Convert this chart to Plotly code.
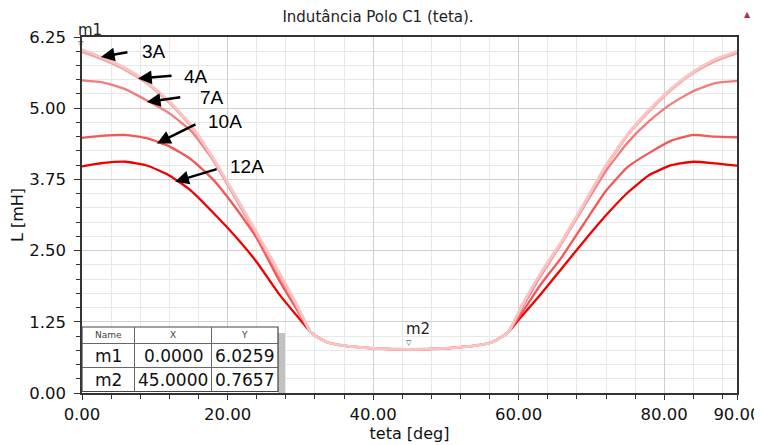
import plotly.graph_objects as go

# ---------------- data ----------------
teta_deg = [0, 3, 6, 9, 12, 15, 18, 21, 24, 27, 29.5, 31.5, 33.5, 36, 40, 45,
            50, 54, 56.5, 58.5, 60.5, 63, 66, 69, 72, 75, 78, 81, 84, 87, 90]

L_3A = [6.03, 5.88, 5.70, 5.45, 5.12, 4.70, 4.13, 3.48, 2.82, 2.14, 1.55, 1.06, 0.90, 0.83, 0.785, 0.766,
        0.785, 0.83, 0.90, 1.06, 1.55, 2.10, 2.68, 3.33, 4.00, 4.55, 4.98, 5.35, 5.64, 5.86, 6.00]
L_4A = [5.99, 5.85, 5.67, 5.43, 5.10, 4.68, 4.11, 3.46, 2.80, 2.12, 1.54, 1.06, 0.90, 0.83, 0.785, 0.766,
        0.785, 0.83, 0.90, 1.06, 1.54, 2.08, 2.66, 3.31, 3.98, 4.53, 4.96, 5.33, 5.62, 5.83, 5.97]
L_7A = [5.49, 5.45, 5.33, 5.13, 4.91, 4.60, 4.09, 3.44, 2.77, 2.08, 1.52, 1.06, 0.90, 0.83, 0.785, 0.766,
        0.785, 0.83, 0.90, 1.06, 1.50, 2.05, 2.65, 3.28, 3.90, 4.40, 4.78, 5.08, 5.30, 5.44, 5.48]
L_10A = [4.48, 4.52, 4.53, 4.47, 4.33, 4.10, 3.75, 3.27, 2.72, 2.00, 1.47, 1.06, 0.90, 0.83, 0.785, 0.766,
         0.785, 0.83, 0.90, 1.06, 1.42, 1.90, 2.40, 2.98, 3.55, 3.97, 4.22, 4.43, 4.53, 4.50, 4.49]
L_12A = [3.98, 4.04, 4.06, 3.99, 3.82, 3.55, 3.17, 2.76, 2.30, 1.75, 1.36, 1.06, 0.90, 0.83, 0.785, 0.766,
         0.785, 0.83, 0.90, 1.06, 1.36, 1.73, 2.20, 2.67, 3.12, 3.52, 3.83, 4.00, 4.06, 4.03, 3.99]

series_names = ["12A", "10A", "7A", "4A", "3A"]
series_values = [L_12A, L_10A, L_7A, L_4A, L_3A]
series_colors = ["#f00000", "#f25858", "#f37b7b", "#f6a2a2", "#fac4c4"]
series_widths = [2.3, 2.3, 2.3, 2.8, 2.8]

x_tickvals = [0, 20, 40, 60, 80, 90]
x_ticktext = ["0.00", "20.00", "40.00", "60.00", "80.00", "90.00"]
y_tickvals = [0, 1.25, 2.5, 3.75, 5.0, 6.25]
y_ticktext = ["0.00", "1.25", "2.50", "3.75", "5.00", "6.25"]

marker_names = ["m1", "m2"]
marker_x = [0.0, 45.0]
marker_y = [6.0259, 0.7657]
marker_x_text = ["0.0000", "45.0000"]
marker_y_text = ["6.0259", "0.7657"]

# arrow labels: (label, tip teta, tip L)
arrow_labels = ["3A", "4A", "7A", "10A", "12A"]
arrow_tip_x = [2.6, 7.7, 8.9, 10.3, 12.8]
arrow_tip_y = [5.90, 5.52, 5.11, 4.38, 3.71]

# ---------------- layout geometry (pixels) ----------------
OFF = 8                      # page body margin of the html page
W, H = 762 - OFF, 445 - OFF  # figure size
SPL, SPR, SPT, SPB = 82, 737, 37, 393  # plot area in screenshot pixels


def px(xs):
    return (xs - SPL) / (SPR - SPL)


def py(ys):
    return (SPB - ys) / (SPB - SPT)


FONT = "DejaVu Sans"

fig = go.Figure()
for name, vals, col, wd in zip(series_names, series_values, series_colors, series_widths):
    fig.add_trace(go.Scatter(x=teta_deg, y=vals, mode="lines", name=name,
                             line=dict(color=col, width=wd, shape="spline", smoothing=0.5),
                             hoverinfo="skip"))

annotations = []
# marker triangles and names
for n, mx, my in zip(marker_names, marker_x, marker_y):
    annotations.append(dict(x=mx, y=my, xref="x", yref="y", text="▽", showarrow=False,
                            font=dict(family=FONT, size=7, color="#333"),
                            xanchor="center", yanchor="middle", yshift=6, xshift=-1))
    annotations.append(dict(x=mx, y=my, xref="x", yref="y", text=n, showarrow=False,
                            font=dict(family=FONT, size=15, color="#222"),
                            xanchor="left", yanchor="middle", yshift=20, xshift=-6))

# arrows with labels
arrow_dx = [28, 35, 35, 40, 43]
arrow_dy = [-5, -3, -5, -20, -13]
label_dx = [39, 44, 51, 49, 53]
label_dy = [5, 2, 4, 22, 15]
for lab, tx, ty, adx, ady, ldx, ldy in zip(arrow_labels, arrow_tip_x, arrow_tip_y,
                                            arrow_dx, arrow_dy, label_dx, label_dy):
    annotations.append(dict(x=tx, y=ty, xref="x", yref="y", text="", showarrow=True,
                            ax=adx, ay=ady, arrowhead=2, arrowsize=1.1, arrowwidth=2.5,
                            arrowcolor="black"))
    annotations.append(dict(x=tx, y=ty, xref="x", yref="y", text=lab, showarrow=False,
                            font=dict(family="Liberation Sans", size=19, color="black"),
                            xanchor="left", yanchor="middle", xshift=ldx, yshift=ldy))

# table
tL, tR, tT, tH, tR1, tB = 82, 278, 327, 343.5, 367.5, 391.5
c1, c2 = 134.5, 211.5
shapes = [
    dict(type="rect", xref="paper", yref="paper", x0=px(tR), x1=px(tR + 7), y0=py(SPB), y1=py(tT + 6),
         fillcolor="#c2c2c2", line=dict(width=0), layer="above"),
    dict(type="rect", xref="paper", yref="paper", x0=px(tL), x1=px(tR), y0=py(tB), y1=py(tT),
         fillcolor="white", line=dict(color="#444", width=1.2), layer="above"),
    dict(type="line", xref="paper", yref="paper", x0=px(tL), x1=px(tR), y0=py(tH), y1=py(tH),
         line=dict(color="#666", width=1), layer="above"),
    dict(type="line", xref="paper", yref="paper", x0=px(tL), x1=px(tR), y0=py(tR1), y1=py(tR1),
         line=dict(color="#666", width=1), layer="above"),
    dict(type="line", xref="paper", yref="paper", x0=px(c1), x1=px(c1), y0=py(tB), y1=py(tT),
         line=dict(color="#666", width=1), layer="above"),
    dict(type="line", xref="paper", yref="paper", x0=px(c2), x1=px(c2), y0=py(tB), y1=py(tT),
         line=dict(color="#666", width=1), layer="above"),
]
hdr_y = (tT + tH) / 2
for txt, cx in zip(["Name", "X", "Y"], [(tL + c1) / 2, (c1 + c2) / 2, (c2 + tR) / 2]):
    annotations.append(dict(x=px(cx), y=py(hdr_y), xref="paper", yref="paper", text=txt,
                            showarrow=False, font=dict(family=FONT, size=9, color="#444"),
                            xanchor="center", yanchor="middle"))
row_ys = [(tH + tR1) / 2, (tR1 + tB) / 2]
for n, xt, yt, ry in zip(marker_names, marker_x_text, marker_y_text, row_ys):
    for txt, cx in zip([n, xt, yt], [(tL + c1) / 2, (c1 + c2) / 2, (c2 + tR) / 2]):
        annotations.append(dict(x=px(cx), y=py(ry), xref="paper", yref="paper", text=txt,
                                showarrow=False, font=dict(family=FONT, size=17, color="#111"),
                                xanchor="center", yanchor="middle"))

# top-right icon
annotations.append(dict(x=px(747), y=py(15), xref="paper", yref="paper", text="▲",
                        showarrow=False, font=dict(family=FONT, size=8, color="#b0303a"),
                        xanchor="center", yanchor="middle"))

fig.update_layout(
    width=W, height=H,
    margin=dict(l=SPL - OFF, r=(762 - SPR), t=SPT - OFF, b=(445 - SPB), pad=0, autoexpand=False),
    paper_bgcolor="white", plot_bgcolor="white",
    showlegend=False,
    font=dict(family=FONT, color="#111"),
    title=dict(text="Indutância Polo C1 (teta).", x=(378 - OFF) / W, xref="container",
               y=1 - (17 - OFF) / H, yref="container", xanchor="center", yanchor="middle",
               font=dict(family=FONT, size=15, color="#222")),
    xaxis=dict(range=[0, 90], tickmode="array", tickvals=x_tickvals, ticktext=x_ticktext,
               ticks="outside", ticklen=5, tickcolor="#333", tickwidth=1, automargin=False,
               showline=True, linecolor="#333", linewidth=1.5, mirror=True,
               showgrid=True, gridcolor="#cfcfcf", gridwidth=1, zeroline=False,
               tickfont=dict(family=FONT, size=16.5, color="#111"),
               minor=dict(tickmode="linear", tick0=0, dtick=4, ticks="outside", ticklen=4,
                          tickcolor="#333", showgrid=True, gridcolor="#e8e8e8", gridwidth=1),
               title=dict(text="teta [deg]", font=dict(family=FONT, size=16, color="#111"), standoff=4)),
    yaxis=dict(range=[0, 6.25], tickmode="array", tickvals=y_tickvals, ticktext=y_ticktext,
               ticks="outside", ticklen=6, tickcolor="#333", tickwidth=1, automargin=False,
               showline=True, linecolor="#333", linewidth=1.5, mirror=True,
               showgrid=True, gridcolor="#cfcfcf", gridwidth=1, zeroline=False,
               tickfont=dict(family=FONT, size=16.5, color="#111"), ticklabelstandoff=5,
               minor=dict(tickmode="linear", tick0=0, dtick=0.25, ticks="outside", ticklen=4,
                          tickcolor="#333", showgrid=True, gridcolor="#e8e8e8", gridwidth=1),
               title=dict(text="L [mH]", font=dict(family=FONT, size=16, color="#111"), standoff=4)),
    shapes=shapes,
    annotations=annotations,
)

fig.write_html("out.html")
